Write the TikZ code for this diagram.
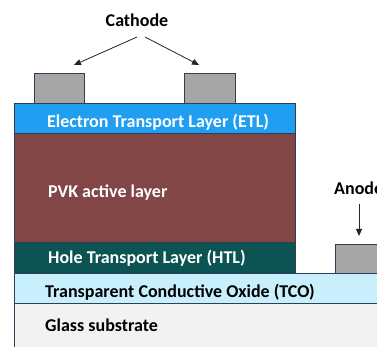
\documentclass[tikz,border=0pt]{standalone}
\usepackage{fontspec}
\setmainfont{Carlito}
\usetikzlibrary{arrows.meta}
\definecolor{etl}{HTML}{1F9EF2}
\definecolor{pvk}{HTML}{834646}
\definecolor{htl}{HTML}{0B5453}
\definecolor{tco}{HTML}{C8F0FC}
\definecolor{glass}{HTML}{F2F2F2}
\definecolor{pad}{HTML}{A6A6A6}
\definecolor{edge}{HTML}{2F3E55}
\begin{document}
\begin{tikzpicture}[x=1pt,y=-1pt,
  layer/.style={draw=edge,line width=0.8pt},
  padbox/.style={draw=edge,fill=pad,line width=0.8pt},
  wlabel/.style={text=white,font=\bfseries\fontsize{18}{20}\selectfont,inner sep=0pt},
  klabel/.style={text=black,font=\bfseries\fontsize{18}{20}\selectfont,inner sep=0pt},
  arr/.style={-{Triangle[length=7pt,width=6pt]},line width=0.8pt,black!85}]
\useasboundingbox (0,0) rectangle (377,347);
\begin{scope}
\clip (0,0) rectangle (377,347);
% glass
\fill[glass] (14,303) rectangle (377,347);
\draw[edge,line width=0.8pt] (14,347) -- (14,303);
% TCO
\draw[layer,fill=tco] (14,273) rectangle (380,303);
% HTL
\draw[layer,fill=htl] (14,242) rectangle (295,273);
% PVK
\draw[layer,fill=pvk] (14,133) rectangle (295,242);
% ETL
\draw[layer,fill=etl] (14,103) rectangle (295,133);
% cathode pads
\draw[padbox] (34,73) rectangle (84,103);
\draw[padbox] (184,73) rectangle (235,103);
% anode pad
\draw[padbox] (335,244) rectangle (380,273);
% labels
\node[wlabel] (etlt) at (158,122) {Electron Transport Layer (ETL)};
\node[wlabel,anchor=west] (pvkt) at (48,193) {PVK active layer};
\node[wlabel,anchor=west] (htlt) at (48,258) {Hole Transport Layer (HTL)};
\node[klabel,anchor=west] (tcot) at (45,292) {Transparent Conductive Oxide (TCO)};
\node[klabel,anchor=west] (glt) at (45,325) {Glass substrate};
\node[klabel] (cat) at (137,20) {Cathode};
\node[klabel,anchor=west] (ano) at (334,188) {Anode};
\coordinate (c1) at (137,37);
\coordinate (c2) at (145,37);
\coordinate (t1) at (74,65);
\coordinate (t2) at (199,65);
\coordinate (a1) at (359,204);
\coordinate (a2) at (359,236);
\draw[arr] (c1) -- (t1);
\draw[arr] (c2) -- (t2);
\draw[arr] (a1) -- (a2);
\end{scope}
\end{tikzpicture}
\end{document}
